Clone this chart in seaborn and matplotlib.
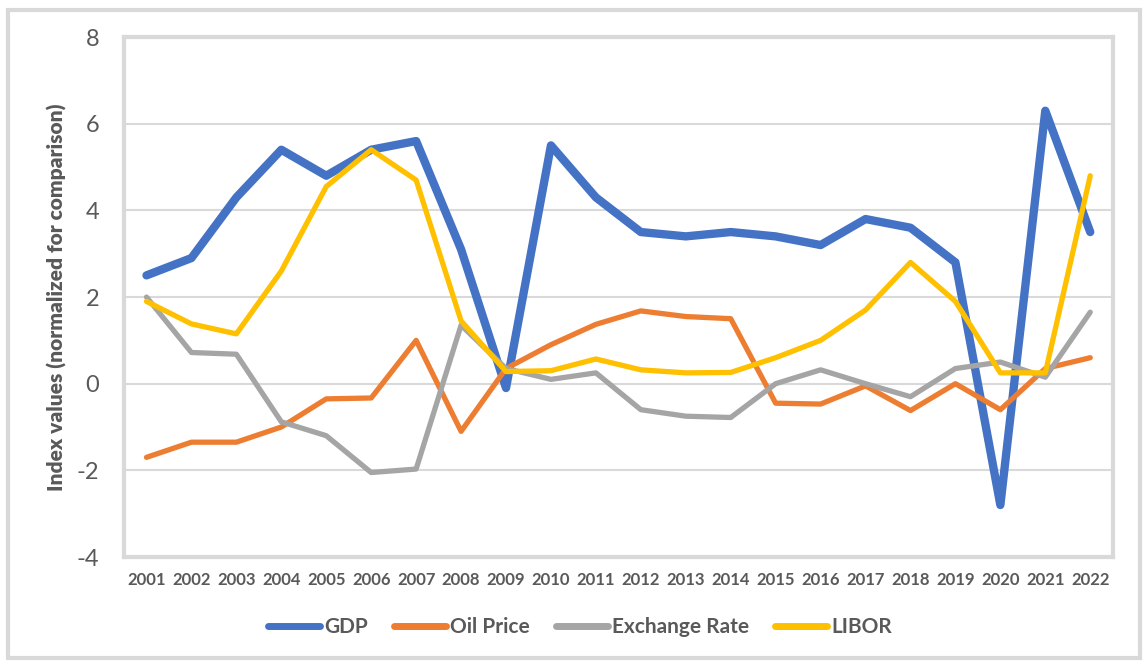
import matplotlib
matplotlib.use("Agg")
import matplotlib.pyplot as plt
import seaborn as sns
import pandas as pd
from matplotlib.patches import Rectangle

years = [str(y) for y in range(2001, 2023)]
gdp = [2.5, 2.9, 4.3, 5.4, 4.8, 5.4, 5.6, 3.1, -0.1, 5.5, 4.3,
       3.5, 3.4, 3.5, 3.4, 3.2, 3.8, 3.6, 2.8, -2.8, 6.3, 3.5]
oil_price = [-1.7, -1.35, -1.35, -1.0, -0.35, -0.33, 1.0, -1.1, 0.35, 0.9, 1.37,
             1.68, 1.55, 1.5, -0.45, -0.47, -0.05, -0.62, 0.0, -0.6, 0.35, 0.6]
exchange_rate = [2.0, 0.72, 0.68, -0.88, -1.2, -2.05, -1.97, 1.35, 0.35, 0.1, 0.25,
                 -0.6, -0.75, -0.78, 0.0, 0.32, 0.0, -0.3, 0.35, 0.5, 0.15, 1.65]
libor = [1.9, 1.38, 1.15, 2.6, 4.55, 5.4, 4.7, 1.45, 0.28, 0.3, 0.57,
         0.32, 0.25, 0.26, 0.6, 1.0, 1.7, 2.8, 1.9, 0.25, 0.25, 4.8]

series = ["GDP", "Oil Price", "Exchange Rate", "LIBOR"]
colors = ["#4472c4", "#ed7d31", "#a5a5a5", "#ffc000"]
widths = [6.0, 3.8, 3.8, 3.8]

df = pd.DataFrame({"year": years, "GDP": gdp, "Oil Price": oil_price,
                   "Exchange Rate": exchange_rate, "LIBOR": libor})
df["pos"] = range(len(years))

sns.set_style("white")
plt.rcParams["font.family"] = ["Lato", "DejaVu Sans"]
plt.rcParams["axes.unicode_minus"] = False

fig = plt.figure(figsize=(11.43, 6.62), dpi=100)
ax = fig.add_axes([0.1085, 0.1586, 0.865, 0.7854])

# outer frame of the chart
fig.patches.append(Rectangle((8 / 1143, 4 / 662), 1132 / 1143, 648 / 662,
                             transform=fig.transFigure, fill=False,
                             edgecolor="#d9d9d9", linewidth=3))

for name, c, w in zip(series, colors, widths):
    sns.lineplot(data=df, x="pos", y=name, ax=ax, color=c, linewidth=w,
                 label=name, solid_capstyle="round", solid_joinstyle="round",
                 zorder=3 if name != "GDP" else 2)

ax.set_xlim(-0.5, len(years) - 0.5)
ax.set_ylim(-4, 8)
ax.set_yticks(range(-4, 9, 2))
ax.set_xticks(df["pos"])
ax.set_xticklabels(years, fontsize=12, fontweight="bold", color="#595959")
ax.tick_params(axis="y", labelsize=17, colors="#595959", pad=18, length=0)
ax.tick_params(axis="x", length=0, pad=11)
ax.grid(axis="y", color="#d9d9d9", linewidth=1.5)
ax.set_axisbelow(True)
for sp in ax.spines.values():
    sp.set_color("#d9d9d9")
    sp.set_linewidth(3)
ax.set_xlabel("")
ax.set_ylabel("Index values (normalized for comparison)", fontsize=15,
              fontweight="heavy", color="#595959", labelpad=7)

leg = ax.legend(loc="center", bbox_to_anchor=(0.461, -0.135), ncol=4,
                frameon=False, handlelength=2.5, columnspacing=1.25,
                handletextpad=0.2, fontsize=15)
for t in leg.get_texts():
    t.set_color("#595959")
    t.set_fontweight("bold")
for h in leg.get_lines():
    h.set_solid_capstyle("round")
    h.set_linewidth(5)

fig.savefig("out.png", dpi=100)
